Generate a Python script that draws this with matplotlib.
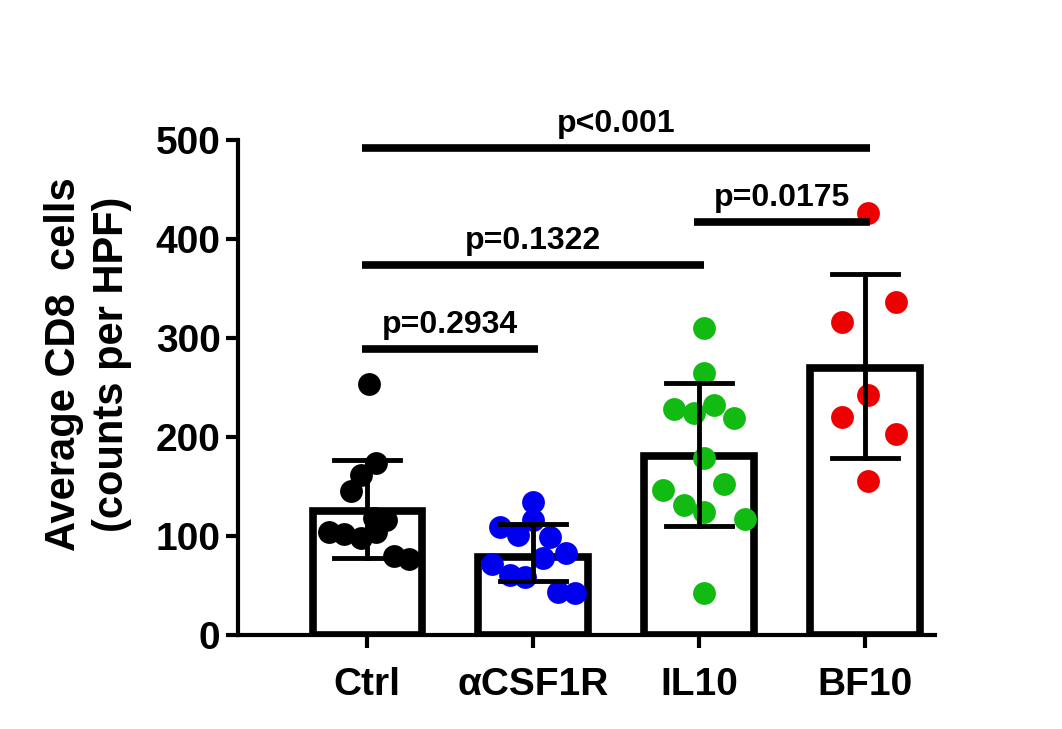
import matplotlib
matplotlib.use("Agg")
import matplotlib.pyplot as plt

categories = ["Ctrl", "αCSF1R", "IL10", "BF10"]
colors = ["black", "#0000ee", "#11bb11", "#ee0000"]
bar_means = [125, 79, 181, 270]
err_hi = [177, 112, 255, 365]
err_lo = [78, 54, 110, 179]

ctrl_x = [0.01, 0.05, -0.04, -0.10, 0.04, 0.11, -0.23, -0.14, -0.04, 0.05, 0.16, 0.25]
ctrl_y = [253, 174, 162, 145, 118, 116, 104, 102, 98, 104, 80, 77]
csf_x = [0.0, -0.20, -0.09, 0.0, 0.10, 0.20, 0.06, -0.25, -0.14, -0.05, 0.15, 0.25]
csf_y = [134, 109, 101, 116, 99, 83, 78, 72, 61, 59, 43, 42]
il_x = [0.03, 0.03, -0.15, -0.03, 0.09, 0.21, 0.03, 0.15, -0.22, -0.09, 0.03, 0.28, 0.03]
il_y = [310, 265, 228, 224, 232, 219, 179, 152, 146, 131, 124, 117, 42]
bf_x = [0.02, 0.19, -0.14, 0.02, -0.14, 0.19, 0.02]
bf_y = [426, 336, 316, 242, 220, 203, 156]
points_x = [ctrl_x, csf_x, il_x, bf_x]
points_y = [ctrl_y, csf_y, il_y, bf_y]

brackets = [(0, 3, 492, "p<0.001"), (0, 2, 374, "p=0.1322"),
            (0, 1, 289, "p=0.2934"), (2, 3, 417, "p=0.0175")]

plt.rcParams["font.family"] = "Liberation Sans"
plt.rcParams["font.weight"] = "bold"
fig = plt.figure(figsize=(10.62, 7.29), dpi=100)
ax = fig.add_axes([0.224, 0.129, 0.656, 0.679])
xs = range(len(categories))
ax.bar(xs, bar_means, width=0.66, facecolor="white", edgecolor="black", linewidth=5.5, zorder=1)
for i in xs:
    ax.scatter([i + d for d in points_x[i]], points_y[i], s=270, color=colors[i], zorder=2, linewidths=0)
    ax.plot([i, i], [err_lo[i], err_hi[i]], color="black", lw=3.5, zorder=3)
    for yv in (err_lo[i], err_hi[i]):
        ax.plot([i - 0.2, i + 0.2], [yv, yv], color="black", lw=3.5, zorder=3)
for a, b, y, t in brackets:
    ax.plot([a - 0.03, b + 0.03], [y, y], color="black", lw=5.5, clip_on=False, solid_capstyle="butt")
    ax.text((a + b) / 2, y + 9, t, ha="center", va="bottom", fontsize=23, fontweight="bold")
ax.set_xlim(-0.78, 3.42)
ax.set_ylim(0, 500)
ax.set_yticks([0, 100, 200, 300, 400, 500])
ax.set_xticks(list(xs))
ax.set_xticklabels(categories)
ax.tick_params(labelsize=28, width=3, length=9)
ax.tick_params(axis="x", pad=14)
for s in ("top", "right"):
    ax.spines[s].set_visible(False)
for s in ("left", "bottom"):
    ax.spines[s].set_linewidth(3)
fig.text(0.083, 0.50, "Average CD8  cells\n(counts per HPF)", rotation=90, ha="center", va="center",
         fontsize=30, fontweight="bold", linespacing=1.25)
fig.savefig("out.png", dpi=100)
